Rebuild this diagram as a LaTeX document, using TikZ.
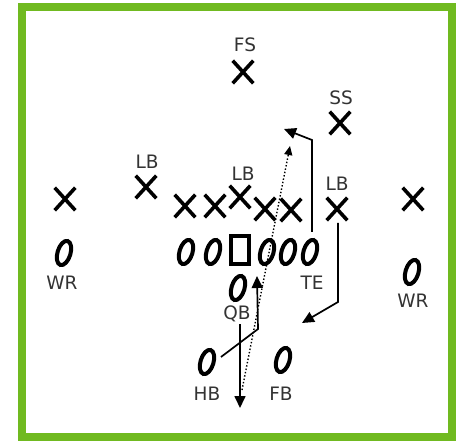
\documentclass[tikz,border=0pt]{standalone}
\usepackage{fontspec}
\setmainfont{DejaVu Sans}
\usetikzlibrary{shapes.misc,shapes.geometric,arrows.meta}
\definecolor{frame}{RGB}{112,186,32}
\tikzset{
  xman/.style={cross out, draw, line width=3.6pt, minimum width=17pt, minimum height=19pt, inner sep=0pt},
  oman/.style={ellipse, draw, line width=4pt, minimum width=13pt, minimum height=25pt, inner sep=0pt, rotate=-17},
  center/.style={rectangle, draw, line width=3.5pt, minimum width=18pt, minimum height=28pt, inner sep=0pt},
  lbl/.style={font=\fontsize{18.5}{18.5}\selectfont, inner sep=0pt, text=black!80},
  route/.style={line width=1.7pt, -{Triangle[length=12pt,width=11pt]}},
  pass/.style={line width=1.4pt, dotted, -{Triangle[length=9pt,width=8pt]}}
}
\begin{document}
\begin{tikzpicture}[x=1pt,y=-1pt]
\useasboundingbox (0,0) rectangle (461,441);
\fill[white] (0,0) rectangle (461,441);
\draw[frame, line width=8pt] (22,7.5) rectangle (452,437);
% defense
\node[xman] (fs) at (243,72) {};
\node[lbl] (fsl) at (245,45) {FS};
\node[xman] (ss) at (340,123) {};
\node[lbl] (ssl) at (341,98) {SS};
\node[xman] (lb1) at (146,187) {};
\node[lbl] (lb1l) at (147,162) {LB};
\node[xman] (lb2) at (240,197) {};
\node[lbl] (lb2l) at (243,174) {LB};
\node[xman] (lb3) at (337,209) {};
\node[lbl] (lb3l) at (337,184) {LB};
\node[xman] (cbl) at (65,199) {};
\node[xman] (cbr) at (413,199) {};
\node[xman] (dl1) at (185,206) {};
\node[xman] (dl2) at (215,206) {};
\node[xman] (dl3) at (265,209) {};
\node[xman] (dl4) at (291,210) {};
% offense
\node[oman] (lt) at (186,252) {};
\node[oman] (lg) at (213,252) {};
\node[center] (c) at (240,250) {};
\node[oman] (rg) at (267,252) {};
\node[oman] (rt) at (288,252) {};
\node[oman] (te) at (310,252) {};
\node[lbl] (tel) at (312,283) {TE};
\node[oman] (wrl) at (64,253) {};
\node[lbl] (wrll) at (62,283) {WR};
\node[oman] (wrr) at (412,272) {};
\node[lbl] (wrrl) at (413,301) {WR};
\node[oman] (qb) at (238,288) {};
\node[lbl] (qbl) at (237,314) {QB};
\node[oman] (hb) at (207,362) {};
\node[lbl] (hbl) at (207,394) {HB};
\node[oman] (fb) at (283,360) {};
\node[lbl] (fbl) at (281,394) {FB};
% route points
\coordinate (qbs) at (240,324);
\coordinate (qbe) at (240,408);
\coordinate (hbs) at (221,357);
\coordinate (hbt) at (258,329);
\coordinate (hbe) at (257,276);
\coordinate (ps) at (242,390);
\coordinate (pe) at (290,146);
\coordinate (tes) at (312,232);
\coordinate (tet) at (312,140);
\coordinate (tee) at (284,129);
\coordinate (lbs) at (338,223);
\coordinate (lbt) at (338,302);
\coordinate (lbe) at (302,323);
\draw[route] (qbs) -- (qbe);
\draw[route] (hbs) -- (hbt) -- (hbe);
\draw[pass] (ps) -- (pe);
\draw[route] (tes) -- (tet) -- (tee);
\draw[route] (lbs) -- (lbt) -- (lbe);
\end{tikzpicture}
\end{document}
